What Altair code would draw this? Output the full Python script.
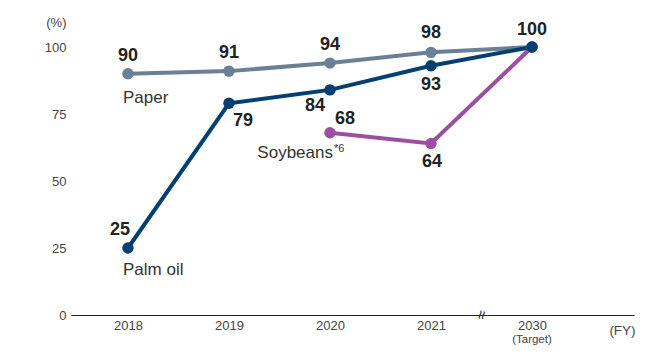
import altair as alt
import pandas as pd

years = ["2018", "2019", "2020", "2021", "2030"]
paper = [90, 91, 94, 98, 100]
palm_oil = [25, 79, 84, 93, 100]
soybeans = [None, None, 68, 64, 100]

series_names = ["Paper", "Soybeans", "Palm oil"]
series_colors = {"Paper": "#6b7f96", "Soybeans": "#9c4ea0", "Palm oil": "#033f6f"}

rows = []
for name, vals in [("Paper", paper), ("Soybeans", soybeans), ("Palm oil", palm_oil)]:
    for i, v in enumerate(vals):
        if v is not None:
            rows.append({"idx": i, "year": years[i], "series": name, "value": v})
df = pd.DataFrame(rows)

W, H = 563, 268
REG = "Liberation Sans, Arial, sans-serif"

label_js = "[" + ",".join("'%s'" % y for y in years) + "][datum.value]"

xscale = alt.Scale(domain=[-0.564, 5.01], nice=False, zero=False)
yscale = alt.Scale(domain=[0, 100], nice=False)

base = alt.Chart(df)

x_enc = alt.X("idx:Q", scale=xscale, axis=alt.Axis(
    values=[0, 1, 2, 3, 4], labelExpr=label_js, grid=False, ticks=False,
    domainColor="#222", domainWidth=1, labelColor="#444", labelFont=REG,
    labelFontSize=13, labelPadding=4, title="(FY)", titleFont=REG,
    titleFontSize=13.5, titleFontWeight="normal", titleColor="#444",
    titleX=551, titleY=15, titleAlign="center", titleBaseline="middle"))
y_enc = alt.Y("value:Q", scale=yscale, axis=alt.Axis(
    values=[0, 25, 50, 75, 100], grid=False, ticks=False, domain=False,
    labelColor="#444", labelFont=REG, labelFontSize=13, labelPadding=5,
    title="(%)", titleAngle=0, titleFont=REG, titleFontSize=13,
    titleFontWeight="normal", titleColor="#444", titleX=-5, titleY=-25,
    titleAlign="right", titleBaseline="middle"))

layers = []
for s in series_names:
    sub = base.transform_filter(alt.datum.series == s)
    layers.append(sub.mark_line(color=series_colors[s], strokeWidth=4).encode(
        x=x_enc, y=y_enc, order="idx:Q"))
for s in series_names:
    sub = base.transform_filter(alt.datum.series == s)
    layers.append(sub.mark_circle(color=series_colors[s], size=130, opacity=1).encode(
        x="idx:Q", y="value:Q"))

# value label placements (series, index, dx, dy)
placements = [
    ("Paper", 0, 0, -18), ("Paper", 1, 0, -18), ("Paper", 2, 0, -18),
    ("Paper", 3, 0, -19), ("Paper", 4, 0, -17),
    ("Palm oil", 0, -8, -18), ("Palm oil", 1, 14, 18), ("Palm oil", 2, -15, 16),
    ("Palm oil", 3, 0, 19),
    ("Soybeans", 2, 15, -14), ("Soybeans", 3, 1, 19),
]
for s, i, dx, dy in placements:
    sub = base.transform_filter((alt.datum.series == s) & (alt.datum.idx == i))
    layers.append(sub.mark_text(font=REG, fontSize=18, fontWeight="bold",
                                color="#222", dx=dx, dy=dy, baseline="middle",
                                align="center").encode(
        x="idx:Q", y="value:Q", text="value:Q"))

# series name labels
for s, i, dx, dy, txt, align, fs in [
    ("Paper", 0, -5, 24, "Paper", "left", 17),
    ("Palm oil", 0, -5, 22, "Palm oil", "left", 17),
    ("Soybeans", 2, 3, 20, "Soybeans", "right", 17),
    ("Soybeans", 2, 4, 16, "*6", "left", 11),
]:
    sub = base.transform_filter((alt.datum.series == s) & (alt.datum.idx == i))
    layers.append(sub.mark_text(font=REG, fontSize=fs, color="#333", dx=dx, dy=dy,
                                align=align, baseline="middle").encode(
        x="idx:Q", y="value:Q", text=alt.value(txt)))

# axis break and "(Target)"
extra = alt.Chart(pd.DataFrame({"idx": [3.5, 4], "t": ["≈", "(Target)"]}))
layers.append(extra.transform_filter(alt.datum.idx == 3.5).mark_text(
    font=REG, fontSize=16, color="#222", angle=100, baseline="middle",
    align="center").encode(x="idx:Q", y=alt.value(H), text="t:N"))
layers.append(extra.transform_filter(alt.datum.idx == 4).mark_text(
    font=REG, fontSize=11.5, color="#444", baseline="middle",
    align="center").encode(x="idx:Q", y=alt.value(H + 25), text="t:N"))

chart = alt.layer(*layers).properties(
    width=W, height=H,
    autosize=alt.AutoSizeParams(type="none"),
    padding={"left": 63, "top": 39, "right": 27, "bottom": 37},
).configure(background="white").configure_view(strokeWidth=0, stroke=None)

chart.save("out.html", embed_options={"renderer": "svg", "actions": False})
